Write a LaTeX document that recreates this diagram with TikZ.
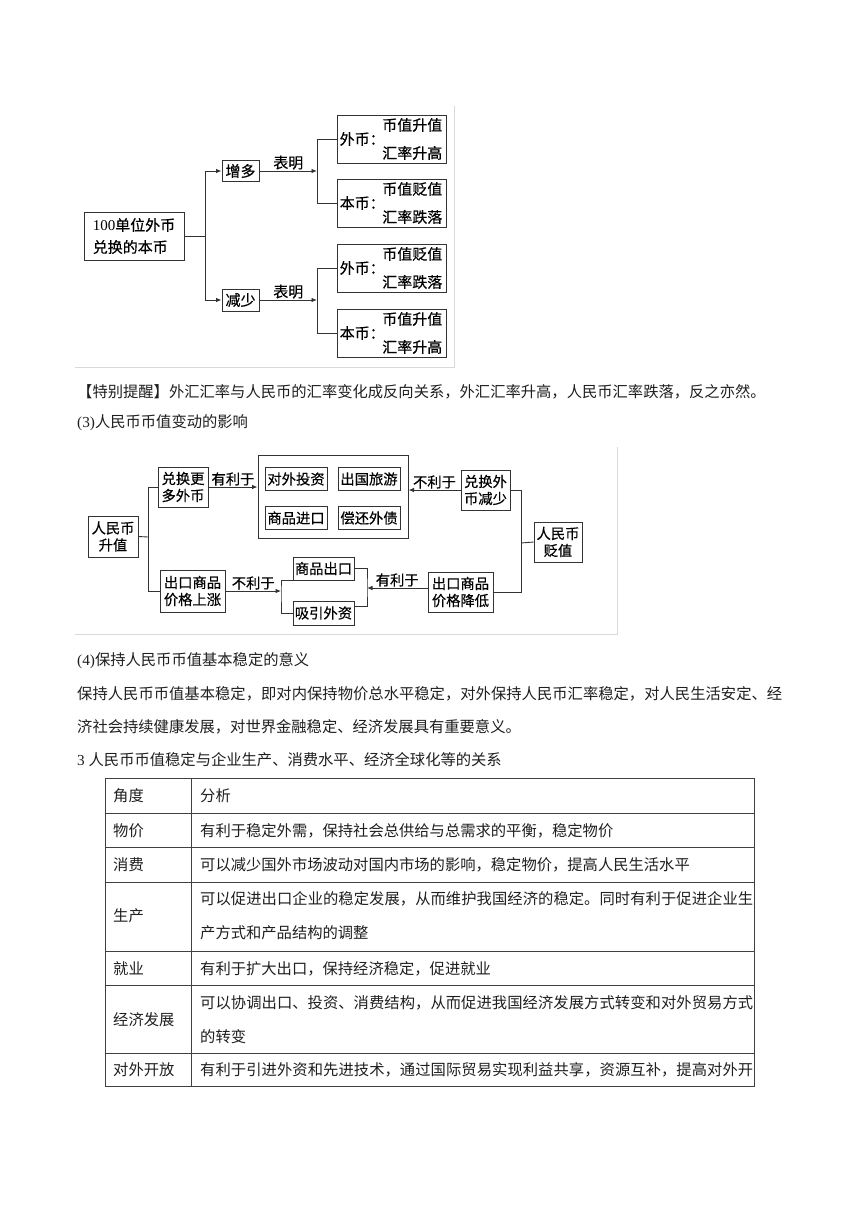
\documentclass[tikz,border=0pt]{standalone}
\usepackage{fontspec}
\setmainfont{Liberation Serif}
\newfontfamily\cjk{Noto Sans CJK SC}
\newfontfamily\cjkb[FakeBold=0.4]{Noto Sans CJK SC}
\usetikzlibrary{arrows.meta}
\XeTeXlinebreaklocale "zh"
\XeTeXlinebreakskip=0pt plus 3pt
\newcommand\jline[2]{\parbox{#1}{\parfillskip=0pt\noindent #2}}
\begin{document}
\begin{tikzpicture}[x=1pt,y=-1pt,
  ln/.style={draw=black!80,line width=0.9pt},
  arr/.style={ln,-{Latex[length=5.5pt,width=4.5pt]}},
  box/.style={draw=black!80,line width=1pt,inner sep=0pt,align=center},
  fa/.style={font=\cjkb\fontsize{15pt}{22pt}\selectfont},
  fb/.style={font=\cjkb\fontsize{14.3pt}{17pt}\selectfont},
  lbl/.style={inner sep=1pt,above},
  ptxt/.style={anchor=west,inner sep=0pt,text=black!88,font=\cjk\fontsize{15.3pt}{18pt}\selectfont},
  tl/.style={draw=black!75,line width=0.9pt},
  frame/.style={draw=black!15,line width=1pt}
]
\fill[white] (0,0) rectangle (860,1216);
\useasboundingbox (0,0) rectangle (860,1216);

% ---------------- Diagram 1 ----------------
\draw[frame] (75,367) -- (454,367) -- (454,106);
\node[box,fa,align=left,minimum width=100,minimum height=48] (m1) at (134,236) {{\rmfamily 100}单位外币\\兑换的本币};
\node[box,fa,minimum width=37,minimum height=21] (inc) at (240.5,171) {增多};
\node[box,fa,minimum width=37,minimum height=22] (dec) at (240.5,300) {减少};
\coordinate (j1) at (205,236);
\coordinate (j2) at (317,171);
\coordinate (j3) at (317,300);
\draw[ln] (m1.east) -- (j1);
\draw[arr] (j1) |- (inc.west);
\draw[arr] (j1) |- (dec.west);

\node[box,minimum width=109,minimum height=48] (r1) at (391.5,139) {};
\node[box,minimum width=109,minimum height=48] (r2) at (391.5,203) {};
\node[box,minimum width=109,minimum height=48] (r3) at (391.5,268) {};
\node[box,minimum width=109,minimum height=48] (r4) at (391.5,333) {};
\foreach \r/\a/\b/\c in {r1/外币/币值升值/汇率升高, r2/本币/币值贬值/汇率跌落, r3/外币/币值贬值/汇率跌落, r4/本币/币值升值/汇率升高}{
  \node[fa,anchor=west,inner sep=0pt] (\r a) at ([xshift=3pt]\r.west) {\a：};
  \node[fa,anchor=east,inner sep=0pt,align=right,font=\cjkb\fontsize{15pt}{28pt}\selectfont] (\r b) at ([xshift=-4pt]\r.east) {\b\\\c};
}
\draw[arr] (inc.east) -- node[lbl,fa] {表明} (j2);
\draw[arr] (dec.east) -- node[lbl,fa] {表明} (j3);
\draw[ln] (j2) |- (r1.west);
\draw[ln] (j2) |- (r2.west);
\draw[ln] (j3) |- (r3.west);
\draw[ln] (j3) |- (r4.west);

% ---------------- Texts ----------------
\node[ptxt] (t1) at (77,392) {【特别提醒】外汇汇率与人民币的汇率变化成反向关系，外汇汇率升高，人民币汇率跌落，反之亦然。};
\node[ptxt] (t2) at (77,423) {{\rmfamily (3)}人民币币值变动的影响};

% ---------------- Diagram 2 ----------------
\draw[frame] (75,634) -- (617,634) -- (617,447);
\node[box,fb,minimum width=50,minimum height=41] (up) at (113,536.5) {人民币\\升值};
\node[box,fb,minimum width=50,minimum height=40] (ex) at (183,487) {兑换更\\多外币};
\node[box,fb,minimum width=65,minimum height=42] (pu) at (192.5,591) {出口商品\\价格上涨};
\node[box,minimum width=150,minimum height=83] (big) at (333,496.5) {};
\node[box,fb,minimum width=62,minimum height=23] (i1) at (296,479) {对外投资};
\node[box,fb,minimum width=62,minimum height=23] (i2) at (369,479) {出国旅游};
\node[box,fb,minimum width=62,minimum height=23] (i3) at (296,518) {商品进口};
\node[box,fb,minimum width=62,minimum height=23] (i4) at (369,518) {偿还外债};
\node[box,fb,minimum width=48,minimum height=40] (dn) at (558,542) {人民币\\贬值};
\node[box,fb,minimum width=49,minimum height=40] (dx) at (485.5,490) {兑换外\\币减少};
\node[box,fb,minimum width=65,minimum height=40] (pd) at (460.5,592) {出口商品\\价格降低};
\node[box,fb,minimum width=61,minimum height=23] (e1) at (323.5,568.5) {商品出口};
\node[box,fb,minimum width=61,minimum height=24] (e2) at (323.5,613) {吸引外资};
\coordinate (j4) at (148,537);
\coordinate (j5) at (521,543);
\coordinate (j6) at (367,588);
\coordinate (j7) at (281,591);

\draw[ln] (up.east) -- (j4);
\draw[ln] (j4) |- (ex.west);
\draw[ln] (j4) |- (pu.west);
\draw[arr] (ex.east) -- node[lbl,fb] {有利于} (ex.east -| big.west);
\draw[arr] (dx.west) -- node[lbl,fb] {不利于} (dx.west -| big.east);
\draw[ln] (dn.west) -- (j5);
\draw[ln] (j5) |- (dx.east);
\draw[ln] (j5) |- (pd.east);
\draw[arr] (pd.west |- j6) -- node[lbl,fb] {有利于} (j6);
\draw[ln] (e1.east) -| (j6) |- ([yshift=-6pt]e2.north east);
\draw[arr] (pu.east) -- node[lbl,fb] {不利于} (j7);
\draw[ln] (e1.south west) -| (j7) |- (e2.west);

% ---------------- Texts ----------------
\node[ptxt] (t3) at (77,661) {{\rmfamily (4)}保持人民币币值基本稳定的意义};
\node[ptxt] (t4) at (77,694) {\jline{705pt}{保持人民币币值基本稳定，即对内保持物价总水平稳定，对外保持人民币汇率稳定，对人民生活安定、经}};
\node[ptxt] (t5) at (77,727) {济社会持续健康发展，对世界金融稳定、经济发展具有重要意义。};
\node[ptxt] (t6) at (77,760) {{\rmfamily 3 }人民币币值稳定与企业生产、消费水平、经济全球化等的关系};

% ---------------- Table ----------------
\draw[tl] (105.7,778) rectangle (754.3,1086.7);
\draw[tl] (191.7,778) -- (191.7,1086.7);
\foreach \yy in {813.3,847.7,882.7,951,985.3,1053.3}{
  \draw[tl] (105.7,\yy) -- (754.3,\yy);
}
\node[ptxt] (a0) at (113,796) {角度};
\node[ptxt] (b0) at (200,796) {分析};
\node[ptxt] (a1) at (113,830.5) {物价};
\node[ptxt] (b1) at (200,830.5) {有利于稳定外需，保持社会总供给与总需求的平衡，稳定物价};
\node[ptxt] (a2) at (113,865) {消费};
\node[ptxt] (b2) at (200,865) {可以减少国外市场波动对国内市场的影响，稳定物价，提高人民生活水平};
\node[ptxt] (a3) at (113,916) {生产};
\node[ptxt] (b3) at (200,899) {\jline{553pt}{可以促进出口企业的稳定发展，从而维护我国经济的稳定。同时有利于促进企业生}};
\node[ptxt] (b3b) at (200,933) {产方式和产品结构的调整};
\node[ptxt] (a4) at (113,968.5) {就业};
\node[ptxt] (b4) at (200,968.5) {有利于扩大出口，保持经济稳定，促进就业};
\node[ptxt] (a5) at (113,1019.5) {经济发展};
\node[ptxt] (b5) at (200,1002.5) {\jline{553pt}{可以协调出口、投资、消费结构，从而促进我国经济发展方式转变和对外贸易方式}};
\node[ptxt] (b5b) at (200,1037) {的转变};
\node[ptxt] (a6) at (113,1070) {对外开放};
\node[ptxt] (b6) at (200,1070) {\jline{553pt}{有利于引进外资和先进技术，通过国际贸易实现利益共享，资源互补，提高对外开}};
\end{tikzpicture}
\end{document}
